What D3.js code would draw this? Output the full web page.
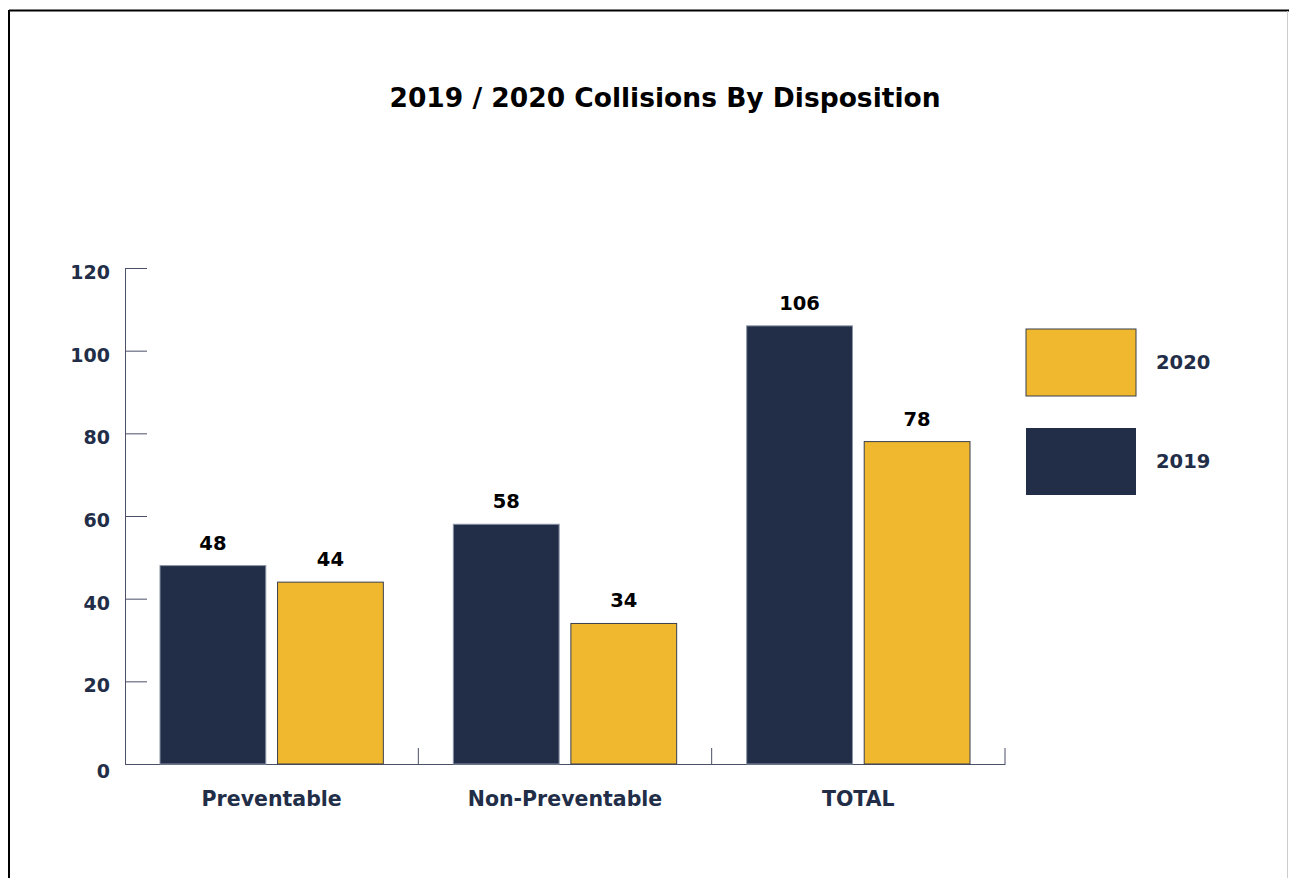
<!DOCTYPE html>
<html>
<head>
<meta charset="utf-8">
<script src="https://cdn.jsdelivr.net/npm/d3@7"></script>
<style>
  body { margin: 0; background: #fff; }
  text { font-family: "DejaVu Sans", "Open Sans", sans-serif; font-weight: 700; }
</style>
</head>
<body>
<div id="chart"></div>
<script>
const categories = ['Preventable', 'Non-Preventable', 'TOTAL']
const seriesNames = ['2019', '2020']
const values2019 = [48, 58, 106]
const values2020 = [44, 34, 78]
const yTicks = [0, 20, 40, 60, 80, 100, 120]

function draw () {
    const dimensions = {
        width: 1289,
        height: 878,
        left: 125,
        right: 1005,
        top: 268,
        bottom: 764
    }
    const colors = { '2019': '#222e48', '2020': '#efb82e' }
    const navy = '#222e48'

    const dataset = categories.map((c, i) => ({
        category: c,
        '2019': values2019[i],
        '2020': values2020[i]
    }))

    const svg = d3.select('#chart')
        .append('svg')
        .attr('width', dimensions.width)
        .attr('height', dimensions.height)

    // frame
    svg.append('line').attr('x1', 9).attr('x2', 1289).attr('y1', 10.5).attr('y2', 10.5)
        .attr('stroke', '#000').attr('stroke-width', 2)
    svg.append('line').attr('x1', 9).attr('x2', 9).attr('y1', 10).attr('y2', 878)
        .attr('stroke', '#000').attr('stroke-width', 2)
    svg.append('line').attr('x1', 1287.5).attr('x2', 1287.5).attr('y1', 11).attr('y2', 878)
        .attr('stroke', '#ccc').attr('stroke-width', 1)

    svg.append('text')
        .attr('x', 665)
        .attr('y', 107)
        .attr('text-anchor', 'middle')
        .attr('font-size', 26.5)
        .attr('fill', '#000')
        .text('2019 / 2020 Collisions By Disposition')

    const xScale = d3.scaleBand()
        .domain(categories)
        .range([dimensions.left, dimensions.right])

    const innerScale = d3.scaleBand()
        .domain(seriesNames)
        .range([35, xScale.bandwidth() - 35])
        .paddingInner(0.1)

    const yScale = d3.scaleLinear()
        .domain([0, 120])
        .range([dimensions.bottom, dimensions.top])

    // y axis
    const yAxis = d3.axisRight(yScale).tickValues(yTicks).tickSize(22).tickFormat('')
    const yG = svg.append('g')
        .attr('transform', `translate(${dimensions.left},0)`)
        .call(yAxis)
    yG.select('.domain').attr('stroke', '#4a5068')
    yG.selectAll('.tick line').attr('stroke', '#4a5068')

    svg.append('g').selectAll('text')
        .data(yTicks)
        .join('text')
        .attr('x', 110)
        .attr('y', d => yScale(d) + (d === 0 ? 14 : 11))
        .attr('text-anchor', 'end')
        .attr('font-size', 19)
        .attr('fill', navy)
        .text(d => d)

    // x axis
    const xAxis = d3.axisTop(xScale).tickSize(0).tickFormat('')
    const xG = svg.append('g')
        .attr('transform', `translate(0,${dimensions.bottom})`)
        .call(xAxis)
    xG.select('.domain').attr('stroke', '#4a5068')

    svg.append('g').selectAll('line')
        .data(categories)
        .join('line')
        .attr('x1', d => xScale(d) + xScale.bandwidth())
        .attr('x2', d => xScale(d) + xScale.bandwidth())
        .attr('y1', dimensions.bottom - 16)
        .attr('y2', dimensions.bottom)
        .attr('stroke', '#4a5068')

    svg.append('g').selectAll('text')
        .data(categories)
        .join('text')
        .attr('x', d => xScale(d) + xScale.bandwidth() / 2)
        .attr('y', 806)
        .attr('text-anchor', 'middle')
        .attr('font-size', 20.5)
        .attr('fill', navy)
        .text(d => d)

    // bars
    const barData = dataset.flatMap(d => seriesNames.map(s => ({ category: d.category, series: s, value: d[s] })))

    const bars = svg.append('g')
    bars.selectAll('rect')
        .data(barData)
        .join('rect')
        .attr('x', d => xScale(d.category) + innerScale(d.series))
        .attr('width', innerScale.bandwidth())
        .attr('y', d => yScale(d.value))
        .attr('height', d => yScale(0) - yScale(d.value))
        .attr('fill', d => colors[d.series])
        .attr('stroke', d => d.series === '2020' ? '#3a3f4f' : '#8a93a6')
        .attr('stroke-width', 1)

    bars.selectAll('text')
        .data(barData)
        .join('text')
        .attr('x', d => xScale(d.category) + innerScale(d.series) + innerScale.bandwidth() / 2)
        .attr('y', d => yScale(d.value) - 16)
        .attr('text-anchor', 'middle')
        .attr('font-size', 19.5)
        .attr('fill', '#000')
        .text(d => d.value)

    // legend
    const legendItems = ['2020', '2019']
    const legend = svg.append('g')
    legend.selectAll('rect')
        .data(legendItems)
        .join('rect')
        .attr('x', 1026)
        .attr('y', (d, i) => 329 + i * 99)
        .attr('width', 110)
        .attr('height', 67)
        .attr('fill', d => colors[d])
        .attr('stroke', d => d === '2020' ? '#3a3f4f' : 'none')
    legend.selectAll('text')
        .data(legendItems)
        .join('text')
        .attr('x', 1156)
        .attr('y', (d, i) => 369 + i * 99)
        .attr('font-size', 19.5)
        .attr('fill', navy)
        .text(d => d)
}

draw()
</script>
</body>
</html>
